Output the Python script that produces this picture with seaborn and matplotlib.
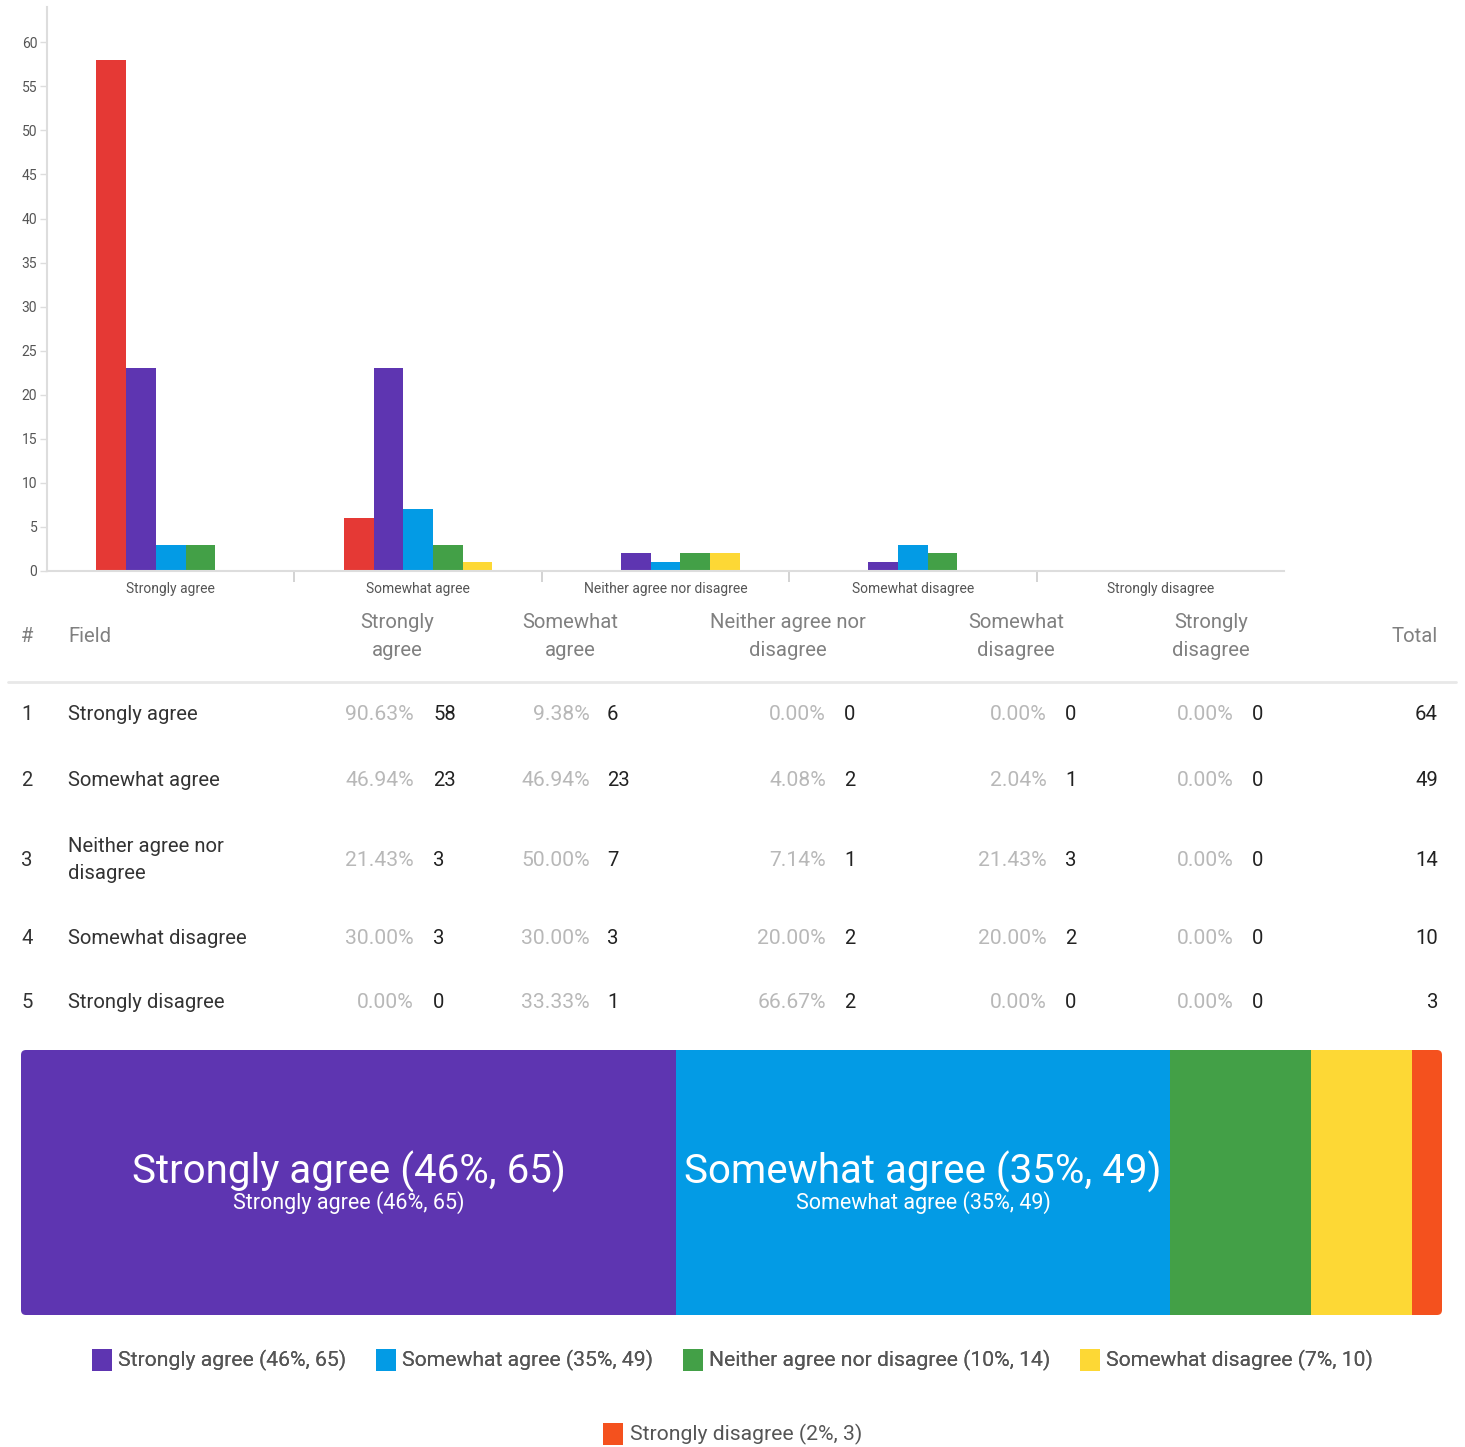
import numpy as np
import pandas as pd
import matplotlib
matplotlib.use("Agg")
import matplotlib.pyplot as plt
from matplotlib.patches import Patch, FancyBboxPatch
import seaborn as sns

# Answers (columns of the table / x groups of the bar chart)
answers = ["Strongly agree", "Somewhat agree", "Neither agree nor disagree",
           "Somewhat disagree", "Strongly disagree"]
header_labels = ["Strongly\nagree", "Somewhat\nagree", "Neither agree nor\ndisagree",
                 "Somewhat\ndisagree", "Strongly\ndisagree"]

# Fields (rows of the table / hue of the bar chart)
fields = ["Strongly agree", "Somewhat agree", "Neither agree nor disagree",
          "Somewhat disagree", "Strongly disagree"]
field_labels = ["Strongly agree", "Somewhat agree", "Neither agree nor\ndisagree",
                "Somewhat disagree", "Strongly disagree"]

# Counts per field (one list per row)
strongly_agree_row = [58, 6, 0, 0, 0]
somewhat_agree_row = [23, 23, 2, 1, 0]
neither_row = [3, 7, 1, 3, 0]
somewhat_disagree_row = [3, 3, 2, 2, 0]
strongly_disagree_row = [0, 1, 2, 0, 0]
rows = [strongly_agree_row, somewhat_agree_row, neither_row,
        somewhat_disagree_row, strongly_disagree_row]

# Overall answer counts (bottom bar)
overall_labels = ["Strongly agree", "Somewhat agree", "Neither agree nor disagree",
                  "Somewhat disagree", "Strongly disagree"]
overall_counts = [65, 49, 14, 10, 3]

bar_colors = ["#E53935", "#5E35B1", "#039BE5", "#43A047", "#FDD835"]
stack_colors = ["#5E35B1", "#039BE5", "#43A047", "#FDD835", "#F4511E"]

sns.set_style("white")
plt.rcParams['font.family'] = ['Roboto', 'DejaVu Sans']

W, H = 1465, 1447
fig = plt.figure(figsize=(W / 100, H / 100), dpi=100)


def fig_box(x0, y0, x1, y1):
    # pixel box (top-left origin) -> figure fraction rect
    return [x0 / W, 1 - y1 / H, (x1 - x0) / W, (y1 - y0) / H]


# ---------- grouped bar chart ----------
long_df = pd.DataFrame(
    [(answers[j], fields[i], rows[i][j]) for i in range(len(fields)) for j in range(len(answers))],
    columns=["Answer", "Field", "Count"],
)

ax_bar = fig.add_axes(fig_box(47, 7, 1284, 571))
sns.barplot(data=long_df, x="Answer", y="Count", hue="Field", order=answers,
            hue_order=fields, palette=bar_colors, width=0.6, saturation=1,
            linewidth=0, legend=False, ax=ax_bar)
ax_bar.set_xlim(-0.5, len(answers) - 0.5)
ax_bar.set_ylim(0, 64)
ax_bar.set_yticks(range(0, 61, 5))
ax_bar.set_xlabel("")
ax_bar.set_ylabel("")
for side in ["top", "right"]:
    ax_bar.spines[side].set_visible(False)
for side in ["left", "bottom"]:
    ax_bar.spines[side].set_color("#dddddd")
    ax_bar.spines[side].set_linewidth(1.5)
ax_bar.tick_params(axis="y", labelsize=10, colors="#dddddd", labelcolor="#555555",
                   length=5, width=1, pad=2, left=True)
ax_bar.tick_params(axis="x", which="major", length=0, labelsize=10,
                   labelcolor="#555555", pad=8)
ax_bar.set_xticks(np.arange(0.5, len(answers) - 0.5, 1), minor=True)
ax_bar.tick_params(axis="x", which="minor", length=8, width=1.2, color="#cccccc",
                   bottom=True)

# ---------- table ----------
ax_tab = fig.add_axes([0, 0, 1, 1])
ax_tab.set_xlim(0, W)
ax_tab.set_ylim(H, 0)
ax_tab.axis("off")

header_y = 636
col_centers = [397, 570, 788, 1016, 1211]
pct_right = [414, 590, 826, 1047, 1234]
cnt_left = [433, 607, 844, 1065, 1252]
row_y = [715, 780, 860, 938, 1002]
fs = 14.6

ax_tab.text(21, header_y, "#", ha="left", va="center", fontsize=fs, color="#808080")
ax_tab.text(68, header_y, "Field", ha="left", va="center", fontsize=fs, color="#808080")
for cx, lab in zip(col_centers, header_labels):
    ax_tab.text(cx, header_y, lab, ha="center", va="center", fontsize=fs,
                color="#808080", linespacing=1.6)
ax_tab.text(1438, header_y, "Total", ha="right", va="center", fontsize=fs, color="#808080")
ax_tab.plot([8, 1456], [682, 682], color="#e8e8e8", lw=2)

for i, (ry, lab, vals) in enumerate(zip(row_y, field_labels, rows)):
    total = sum(vals)
    ax_tab.text(21, ry, str(i + 1), ha="left", va="center", fontsize=fs, color="#333333")
    ax_tab.text(68, ry, lab, ha="left", va="center", fontsize=fs, color="#333333",
                linespacing=1.5)
    for j, v in enumerate(vals):
        pct = np.floor(v / total * 10000 + 0.5) / 100
        ax_tab.text(pct_right[j], ry, f"{pct:.2f}%", ha="right", va="center",
                    fontsize=fs + 0.6, color="#b8b8b8")
        ax_tab.text(cnt_left[j], ry, str(v), ha="left", va="center",
                    fontsize=fs, color="#222222")
    ax_tab.text(1438, ry, str(total), ha="right", va="center", fontsize=fs, color="#222222")

# ---------- stacked overall bar ----------
ax_st = fig.add_axes(fig_box(21, 1050, 1442, 1315))
clip = FancyBboxPatch((0, 0), 1, 1, boxstyle="round,pad=0,rounding_size=0.0035",
                      mutation_aspect=1421 / 265, transform=ax_st.transAxes,
                      facecolor="none", edgecolor="none")
ax_st.add_patch(clip)
grand_total = sum(overall_counts)
starts = np.concatenate([[0], np.cumsum(overall_counts)[:-1]])
for lab, cnt, left, col in zip(overall_labels, overall_counts, starts, stack_colors):
    bars = ax_st.barh(0, cnt, left=left, height=1, color=col, linewidth=0)
    for b in bars:
        b.set_clip_path(clip)
    share = cnt / grand_total
    if share >= 0.2:
        txt = f"{lab} ({round(share * 100)}%, {cnt})"
        ax_st.text(left + cnt / 2, 0.04, txt, ha="center", va="center",
                   fontsize=29, color="white")
        ax_st.text(left + cnt / 2, -0.075, txt, ha="center", va="center",
                   fontsize=15.5, color="white")
ax_st.set_xlim(0, grand_total)
ax_st.set_ylim(-0.5, 0.5)
ax_st.axis("off")

# ---------- legend ----------
handles = [Patch(facecolor=c, edgecolor="none",
                 label=f"{lab} ({round(cnt / grand_total * 100)}%, {cnt})")
           for lab, cnt, c in zip(overall_labels, overall_counts, stack_colors)]
leg_kw = dict(loc="center", frameon=False, fontsize=15.2, handlelength=0.95,
              handleheight=1.25, handletextpad=0.3, columnspacing=1.4,
              labelcolor="#555555")
leg1 = fig.legend(handles=handles[:4], ncol=4, bbox_to_anchor=(0.5, 1 - 1360 / H), **leg_kw)
fig.add_artist(leg1)
fig.legend(handles=handles[4:], ncol=1, bbox_to_anchor=(0.5, 1 - 1434 / H), **leg_kw)

fig.savefig("out.png", dpi=100, facecolor="white")
